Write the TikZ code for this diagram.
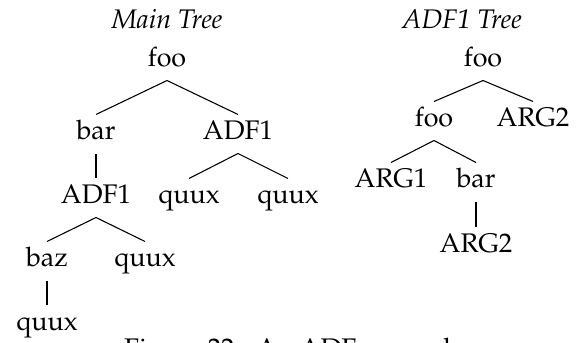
\documentclass[tikz,border=0pt]{standalone}
\usepackage[T1]{fontenc}
\usepackage{mathpazo}
\begin{document}
\begin{tikzpicture}[x=0.41667pt,y=-0.41667pt,
  tn/.style={anchor=base,inner xsep=2pt,inner ysep=3.33pt,text height=7.1pt,text depth=2.1pt,font=\fontsize{11.2}{13.5}\selectfont},
  hdr/.style={anchor=base,inner sep=0pt,font=\fontsize{11.2}{13.5}\selectfont\itshape},
  captxt/.style={anchor=base,inner sep=0pt,font=\fontsize{11.2}{13.5}\selectfont},
  br/.style={draw=black,line width=0.45pt}]
\useasboundingbox (0,0) rectangle (581,343);
% headers
\node[hdr] (hm) at (167,29) {Main Tree};
\node[hdr] (ha) at (462,29) {ADF1 Tree};
% main tree
\node[tn] (m0) at (167,67) {foo};
\node[tn] (m1) at (96,140) {bar};
\node[tn] (m2) at (238,140) {ADF1};
\node[tn] (m3) at (96,204) {ADF1};
\node[tn] (m4) at (189,204) {quux};
\node[tn] (m5) at (288,204) {quux};
\node[tn] (m6) at (47,267) {baz};
\node[tn] (m7) at (145,267) {quux};
\node[tn] (m8) at (47,331) {quux};
\draw[br] (m0.south) -- (m1.north);
\draw[br] (m0.south) -- (m2.north);
\draw[br] (m1.south) -- (m3.north);
\draw[br] (m2.south) -- (m4.north);
\draw[br] (m2.south) -- (m5.north);
\draw[br] (m3.south) -- (m6.north);
\draw[br] (m3.south) -- (m7.north);
\draw[br] (m6.south) -- (m8.north);
% ADF1 tree
\node[tn] (r0) at (483,67) {foo};
\node[tn] (r1) at (434,127) {foo};
\node[tn] (r2) at (533,127) {ARG2};
\node[tn] (r3) at (391,188) {ARG1};
\node[tn] (r4) at (476,188) {bar};
\node[tn] (r5) at (476,253) {ARG2};
\draw[br] (r0.south) -- (r1.north);
\draw[br] (r0.south) -- (r2.north);
\draw[br] (r1.south) -- (r3.north);
\draw[br] (r1.south) -- (r4.north);
\draw[br] (r4.south) -- (r5.north);
% caption (cut off at the bottom)
\node[captxt] (cp) at (294,358) {Figure 22.: An ADF example};
\end{tikzpicture}
\end{document}
